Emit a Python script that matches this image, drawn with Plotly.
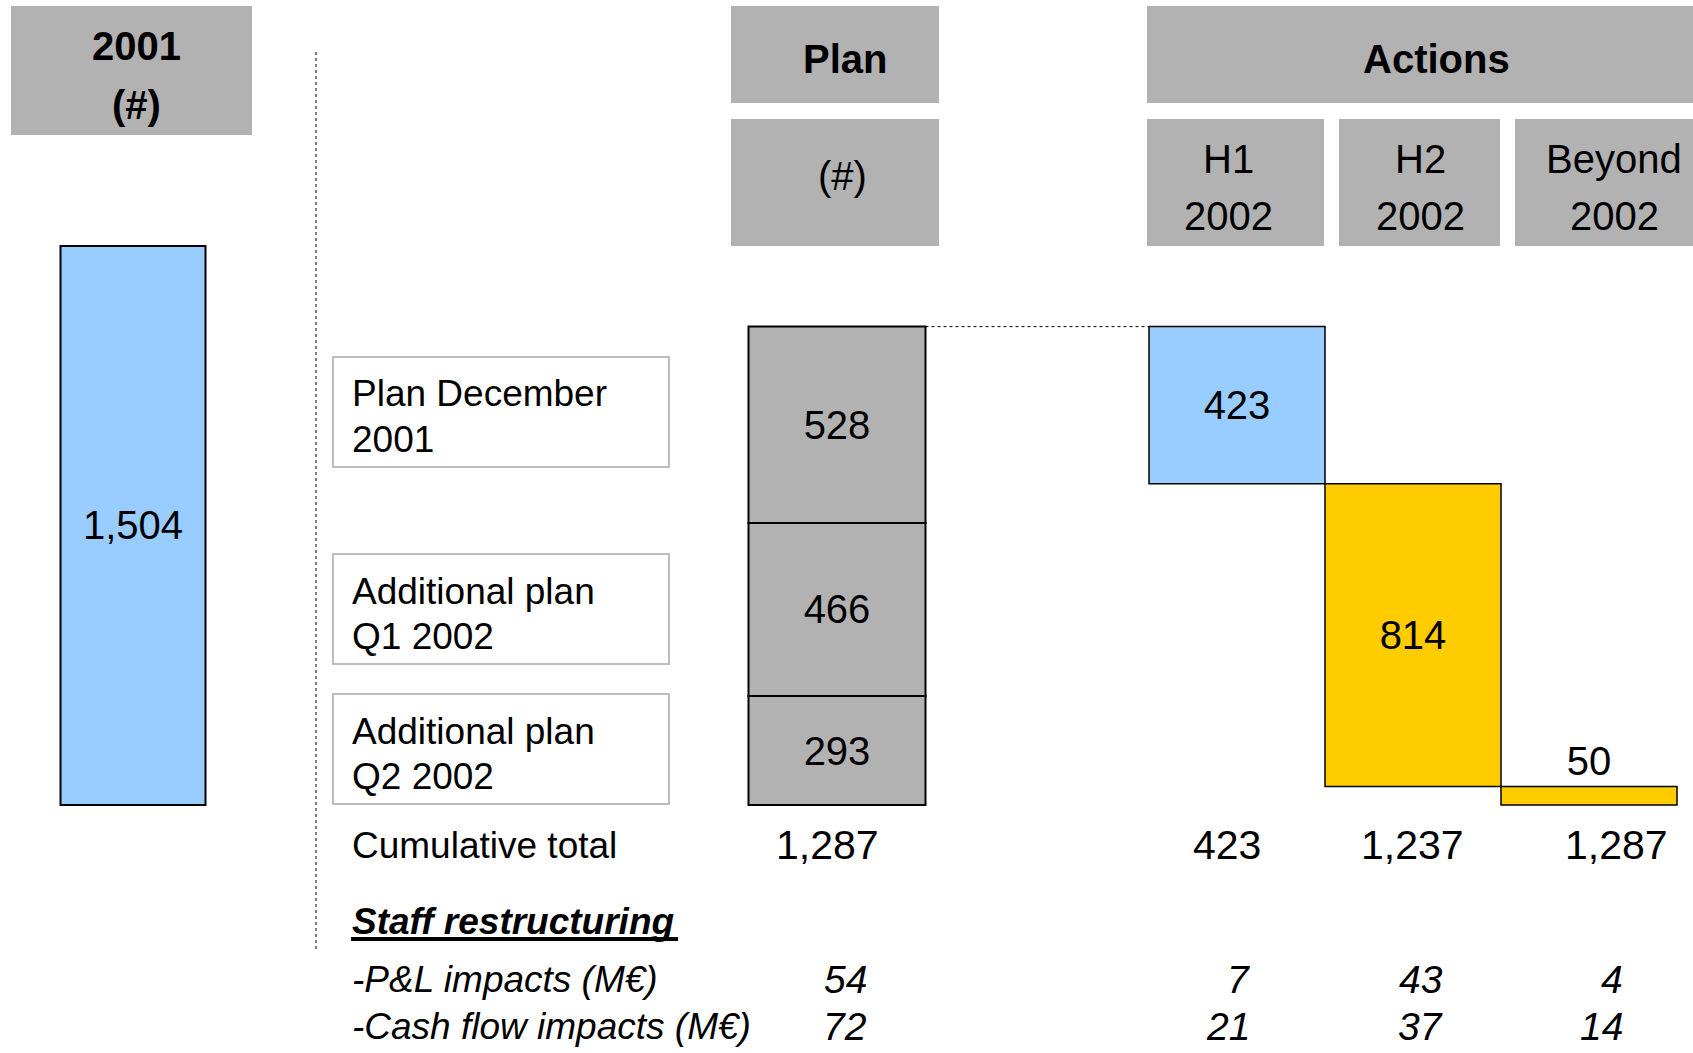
import plotly.graph_objects as go

# ---- data ----
base_year = "2001"
base_total = [1504]
plan_labels = ["Plan December<br>2001", "Additional plan<br>Q1 2002", "Additional plan<br>Q2 2002"]
plan_values = [528, 466, 293]          # top to bottom
action_periods = ["H1<br>2002", "H2<br>2002", "Beyond<br>2002"]
action_values = [423, 814, 50]
impact_rows = ["-P&L impacts (M€)", "-Cash flow impacts (M€)"]
pl_impacts = [54, 7, 43, 4]            # plan, H1, H2, beyond
cash_impacts = [72, 21, 37, 14]

# ---- layout constants (pixels) ----
W, H = 1693, 1053
ZERO_PX = 805
PX_PER_UNIT = 0.3717
FONT = "Arial, 'Liberation Sans', sans-serif"
GRAY = "#b2b2b2"
BLUE = "#99ccff"
YELLOW = "#ffcc00"

COL_2001, W_2001 = 133, 145
COL_PLAN, W_PLAN = 837, 177
COL_ACT, W_ACT = [1237, 1413, 1589], 176


def py(p):
    return 1 - p / H


fig = go.Figure()

# 2001 bar
fig.add_trace(go.Bar(
    x=[COL_2001], y=base_total, width=[W_2001],
    marker=dict(color=BLUE, line=dict(color="black", width=2)),
    text=[f"{v:,}" for v in base_total], textposition="inside",
    insidetextanchor="middle", textangle=0,
    textfont=dict(size=40, color="black", family=FONT),
))

# plan stack (drawn bottom up)
plan_total = sum(plan_values)
plan_bases = []
acc = 0
for v in reversed(plan_values):
    plan_bases.append(acc)
    acc += v
plan_bases = list(reversed(plan_bases))
fig.add_trace(go.Bar(
    x=[COL_PLAN] * len(plan_values), y=plan_values, base=plan_bases,
    width=[W_PLAN] * len(plan_values),
    marker=dict(color=GRAY, line=dict(color="black", width=2)),
    text=[f"{v:,}" for v in plan_values], textposition="inside",
    insidetextanchor="middle", textangle=0,
    textfont=dict(size=40, color="black", family=FONT),
))

# actions waterfall, stepping down from the plan total
cumulative = []
acc = 0
for v in action_values:
    acc += v
    cumulative.append(acc)
act_bases = [plan_total - c for c in cumulative]
fig.add_trace(go.Bar(
    x=COL_ACT, y=action_values, base=act_bases, width=[W_ACT] * 3,
    marker=dict(color=[BLUE, YELLOW, YELLOW], line=dict(color="black", width=1.5)),
    text=[f"{v:,}" for v in action_values],
    textposition=["inside", "inside", "outside"],
    insidetextanchor="middle", textangle=0, cliponaxis=False,
    textfont=dict(size=40, color="black", family=FONT),
))

shapes = []
annotations = []


def box(x0, x1, y0, y1, fill=GRAY, line=None):
    shapes.append(dict(type="rect", xref="x", yref="paper", x0=x0, x1=x1,
                       y0=py(y1), y1=py(y0), fillcolor=fill, layer="below",
                       line=line or dict(width=0)))


def label(x, y, text, size=40, anchor="center"):
    annotations.append(dict(x=x, y=py(y), xref="x", yref="paper", text=text,
                            showarrow=False, xanchor=anchor, yanchor="middle",
                            font=dict(size=size, color="black", family=FONT)))


# headers
box(11, 252, 6, 135)
label(136, 46, "<b>2001</b>")
label(136, 105, "<b>(#)</b>")
box(731, 939, 6, 103)
label(845, 59, "<b>Plan</b>")
box(731, 939, 119, 246)
label(842, 176, "(#)")
box(1147, 1700, 6, 103)
label(1436, 59, "<b>Actions</b>")
for (x0, x1), per, cx in zip([(1147, 1324), (1339, 1500), (1515, 1700)], action_periods,
                             [1228, 1420, 1614]):
    box(x0, x1, 119, 246)
    l1, l2 = per.split("<br>")
    label(cx, 159, l1)
    label(cx, 216, l2)

# plan label boxes
for top, txt in zip([357, 554, 694], plan_labels):
    box(333, 669, top, top + 110, fill="white", line=dict(color="#bdbdbd", width=2))
    l1, l2 = txt.split("<br>")
    label(350, top + 37, l1, size=37, anchor="left")
    label(350, top + 82, l2, size=37, anchor="left")

# cumulative row
label(350, 845, "Cumulative total", size=37, anchor="left")
label(827, 845, f"{plan_total:,}", size=41)
for cx, c in zip([1227, 1412, 1616], cumulative):
    label(cx, 845, f"{c:,}", size=41)

# staff restructuring
label(350, 921, "<b><i>Staff restructuring</i></b>", size=37, anchor="left")
shapes.append(dict(type="line", xref="x", yref="paper", x0=351, x1=678,
                   y0=py(939), y1=py(939), line=dict(color="black", width=4)))
right_edges = [869, 1252, 1445, 1625]
for row_y, name, vals in zip([979, 1026], impact_rows, [pl_impacts, cash_impacts]):
    label(350, row_y, f"<i>{name}</i>", size=37, anchor="left")
    for xr, v in zip(right_edges, vals):
        label(xr, row_y, f"<i>{v}</i>", size=39, anchor="right")

# dotted guides
shapes.append(dict(type="line", xref="x", yref="paper", x0=316, x1=316,
                   y0=py(52), y1=py(950), line=dict(color="black", width=1, dash="dot")))
shapes.append(dict(type="line", xref="x", yref="y", x0=COL_PLAN + W_PLAN / 2,
                   x1=COL_ACT[0] - W_ACT / 2, y0=plan_total, y1=plan_total,
                   line=dict(color="black", width=1, dash="dot")))

fig.update_layout(
    width=W, height=H,
    margin=dict(l=0, r=0, t=0, b=0),
    paper_bgcolor="white", plot_bgcolor="white",
    barmode="overlay", showlegend=False, hovermode=False,
    xaxis=dict(range=[0, W], visible=False, fixedrange=True),
    yaxis=dict(range=[-(H - ZERO_PX) / PX_PER_UNIT, ZERO_PX / PX_PER_UNIT],
               visible=False, fixedrange=True),
    shapes=shapes, annotations=annotations,
    font=dict(family=FONT),
)

fig.write_html("out.html", config={"displayModeBar": False},
               post_script="document.body.style.margin='0';document.body.style.overflow='hidden';")
